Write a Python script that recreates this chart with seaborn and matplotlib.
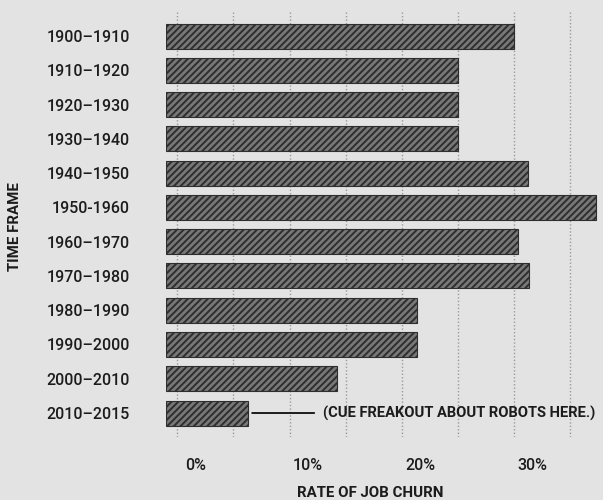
import matplotlib
matplotlib.use("Agg")
import matplotlib.pyplot as plt
import matplotlib.transforms as mtransforms
import seaborn as sns
import pandas as pd

periods = ["1900–1910", "1910–1920", "1920–1930", "1930–1940", "1940–1950",
           "1950-1960", "1960–1970", "1970–1980", "1980–1990", "1990–2000",
           "2000–2010", "2010–2015"]
churn = [30.0, 25.0, 25.0, 25.0, 31.2, 37.3, 30.3, 31.3, 21.3, 21.3, 14.2, 6.3]
tick_vals = [0, 5, 10, 15, 20, 25, 30, 35]
tick_labels = ["0%", "", "10%", "", "20%", "", "30%", ""]
note = "(CUE FREAKOUT ABOUT ROBOTS HERE.)"

df = pd.DataFrame({"period": periods, "churn": churn})

BG = "#e3e3e3"
INK = "#1c1c1c"

sns.set_style("white", {"axes.facecolor": BG, "figure.facecolor": BG})
plt.rcParams["font.family"] = ["Roboto", "DejaVu Sans"]
plt.rcParams["hatch.linewidth"] = 1.4

fig = plt.figure(figsize=(6.03, 5.0), dpi=100)
ax = fig.add_axes([166 / 603, 63 / 500, 437 / 603, 427 / 500])

sns.barplot(data=df, x="churn", y="period", orient="h", color="#787878",
            width=0.73, ax=ax, zorder=2)
for p in ax.patches:
    # printed bars start a little left of the 0% line
    p.set_x(p.get_x() - 1)
    p.set_width(p.get_width() + 1)
    p.set_hatch("/////")
    p.set_edgecolor("#2e2e2e")
    p.set_linewidth(0.8)

ax.set_xlim(-1, 37.9)
ax.set_ylim(len(periods) - 0.3, -0.76)
ax.set_xticks(tick_vals)
ax.set_xticklabels(tick_labels)
ax.grid(axis="x", color="#9a9a9a", linestyle=(0, (1, 1.5)), linewidth=1.0, zorder=0)
ax.set_axisbelow(True)
for s in ax.spines.values():
    s.set_visible(False)

ax.tick_params(axis="x", length=0, pad=15, labelsize=11.5, labelcolor=INK)
ax.tick_params(axis="y", length=0, pad=26, labelsize=11.5, labelcolor=INK)
for lab in ax.get_yticklabels():
    lab.set_fontweight("medium")
shift = mtransforms.ScaledTranslation(18 / 100, 0, fig.dpi_scale_trans)
for lab in ax.get_xticklabels():
    lab.set_fontweight("medium")
    lab.set_transform(lab.get_transform() + shift)

ax.set_xlabel("")
ax.set_ylabel("")

ax.annotate(note, xy=(churn[-1], len(periods) - 1), xytext=(54, 0),
            textcoords="offset points", va="center", ha="left",
            fontsize=10.6, fontweight="bold", color=INK,
            arrowprops=dict(arrowstyle="-", color=INK, lw=1.4,
                            relpos=(0, 0.5), shrinkA=4, shrinkB=3))

fig.text(370 / 603, 1 - 493 / 500, "RATE OF JOB CHURN", ha="center", va="center",
         fontsize=10.8, fontweight="bold", color=INK)
fig.text(15 / 603, 1 - 227 / 500, "TIME FRAME", ha="center", va="center",
         rotation=90, fontsize=10.8, fontweight="bold", color=INK)

fig.savefig("out.png", dpi=100, facecolor=BG)
